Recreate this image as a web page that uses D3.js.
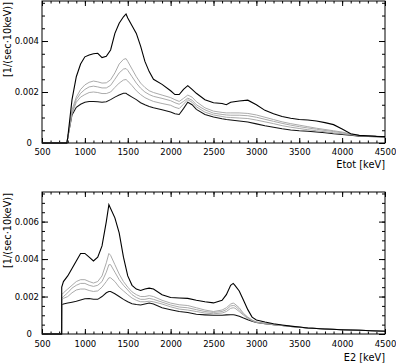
<!DOCTYPE html>
<html>
<head>
<meta charset="utf-8">
<script src="https://cdn.jsdelivr.net/npm/d3@7.9.0/dist/d3.min.js"></script>
<style>
  body { margin: 0; background: #fff; }
  svg { display: block; }
  text { font-family: "DejaVu Sans", sans-serif; fill: #000; }
</style>
</head>
<body>
<svg id="chart" width="396" height="364"></svg>
<script>
// Etot spectra (upper panel), counts per sec per 10 keV
const etotEnergy = [500, 790, 800, 850, 900, 950, 1000, 1050, 1100, 1150, 1200, 1250, 1300, 1350, 1400, 1450, 1480, 1500, 1550, 1600, 1650, 1700, 1750, 1800, 1900, 2000, 2050, 2100, 2150, 2200, 2250, 2300, 2400, 2500, 2600, 2650, 2700, 2800, 2900, 3000, 3100, 3200, 3300, 3400, 3500, 3600, 3700, 3800, 3900, 4000, 4100, 4200, 4300, 4400, 4500];
const etotHigh = [0, 0, 0.0002, 0.0017, 0.0026, 0.0031, 0.00338, 0.00345, 0.0035, 0.00352, 0.00335, 0.0034, 0.00365, 0.0043, 0.0047, 0.00495, 0.00506, 0.0049, 0.0046, 0.0043, 0.0038, 0.0032, 0.0028, 0.0025, 0.0023, 0.00205, 0.0019, 0.0019, 0.0021, 0.00225, 0.0021, 0.00195, 0.0017, 0.00158, 0.00155, 0.0015, 0.0016, 0.00165, 0.00168, 0.0015, 0.00128, 0.00115, 0.00104, 0.00097, 0.00092, 0.0009, 0.00086, 0.0008, 0.00072, 0.00055, 0.00036, 0.0003, 0.00028, 0.00026, 0.00025];
const etotMid1 = [0, 0, 0.0002, 0.0013, 0.0018, 0.0021, 0.00228, 0.00238, 0.00243, 0.0024, 0.00235, 0.00236, 0.00248, 0.00275, 0.0031, 0.00328, 0.00331, 0.0032, 0.0029, 0.0026, 0.00235, 0.00218, 0.00205, 0.00198, 0.00188, 0.00178, 0.0017, 0.00163, 0.00175, 0.00188, 0.0018, 0.00162, 0.00138, 0.00125, 0.0012, 0.00118, 0.00118, 0.00118, 0.00116, 0.0011, 0.00101, 0.00092, 0.00083, 0.00076, 0.0007, 0.00064, 0.00058, 0.00053, 0.00048, 0.00043, 0.00035, 0.00029, 0.00027, 0.00026, 0.00025];
const etotMid2 = [0, 0, 0.0002, 0.0012, 0.0017, 0.00195, 0.0021, 0.0022, 0.00223, 0.0022, 0.00216, 0.00216, 0.00226, 0.0025, 0.00275, 0.0029, 0.00292, 0.00285, 0.0026, 0.00235, 0.00215, 0.002, 0.0019, 0.00183, 0.00175, 0.00166, 0.00158, 0.00152, 0.00163, 0.00176, 0.00168, 0.0015, 0.0013, 0.00117, 0.00112, 0.0011, 0.00109, 0.00109, 0.00107, 0.00101, 0.00093, 0.00085, 0.00077, 0.0007, 0.00064, 0.00059, 0.00054, 0.00049, 0.00045, 0.0004, 0.00034, 0.00029, 0.00027, 0.00026, 0.00025];
const etotMid3 = [0, 0, 0.0002, 0.00115, 0.0016, 0.0018, 0.0019, 0.00198, 0.002, 0.00198, 0.00194, 0.00194, 0.002, 0.00218, 0.00235, 0.00247, 0.00249, 0.00243, 0.00225, 0.00205, 0.0019, 0.00178, 0.0017, 0.00163, 0.00155, 0.00148, 0.0014, 0.00135, 0.00152, 0.0017, 0.0016, 0.00142, 0.00121, 0.0011, 0.00104, 0.00101, 0.001, 0.00098, 0.00096, 0.0009, 0.00083, 0.00076, 0.00068, 0.00062, 0.00057, 0.00052, 0.00048, 0.00044, 0.0004, 0.00036, 0.00032, 0.00028, 0.00027, 0.00026, 0.00025];
const etotLow = [0, 0, 0.0002, 0.0011, 0.0014, 0.00152, 0.0016, 0.00163, 0.00163, 0.00162, 0.0016, 0.00162, 0.0017, 0.0018, 0.00188, 0.00195, 0.00195, 0.0019, 0.0018, 0.0017, 0.00158, 0.0015, 0.00143, 0.00138, 0.0013, 0.00122, 0.00115, 0.00112, 0.00135, 0.0016, 0.0015, 0.00132, 0.00112, 0.00102, 0.00095, 0.00092, 0.0009, 0.00086, 0.00082, 0.00075, 0.00068, 0.00062, 0.00056, 0.00051, 0.00048, 0.00046, 0.00043, 0.0004, 0.00036, 0.00033, 0.0003, 0.00027, 0.00026, 0.00025, 0.00024];

// E2 spectra (lower panel)
const e2Energy = [500, 729, 730, 750, 800, 850, 900, 950, 1000, 1050, 1100, 1150, 1200, 1250, 1280, 1300, 1350, 1400, 1450, 1500, 1550, 1600, 1650, 1700, 1750, 1800, 1900, 2000, 2100, 2200, 2300, 2400, 2500, 2600, 2650, 2700, 2730, 2750, 2800, 2850, 2900, 2950, 3000, 3100, 3200, 3300, 3400, 3500, 3600, 3800, 4000, 4200, 4500];
const e2High = [0, 0, 0.0025, 0.0028, 0.0031, 0.0035, 0.0039, 0.0043, 0.0043, 0.0041, 0.0039, 0.0041, 0.0047, 0.006, 0.0069, 0.0067, 0.0062, 0.0054, 0.0041, 0.0031, 0.0026, 0.0024, 0.00232, 0.0024, 0.00245, 0.0024, 0.0021, 0.00195, 0.00192, 0.0019, 0.0018, 0.00172, 0.00166, 0.0018, 0.0021, 0.0026, 0.0027, 0.0026, 0.0023, 0.0018, 0.0013, 0.0009, 0.00075, 0.00064, 0.00055, 0.00048, 0.00042, 0.00037, 0.00032, 0.00027, 0.00023, 0.0002, 0.00015];
const e2Mid1 = [0, 0, 0.0021, 0.0022, 0.0024, 0.0026, 0.0028, 0.0029, 0.0029, 0.0028, 0.00272, 0.0028, 0.0031, 0.0038, 0.0043, 0.0042, 0.0037, 0.0032, 0.0028, 0.0025, 0.00225, 0.0021, 0.002, 0.002, 0.00205, 0.002, 0.0018, 0.00165, 0.00156, 0.00152, 0.0014, 0.00128, 0.0012, 0.00128, 0.0014, 0.0016, 0.00165, 0.0016, 0.0014, 0.0011, 0.0009, 0.00075, 0.00064, 0.00057, 0.00051, 0.00046, 0.00041, 0.00037, 0.00033, 0.00027, 0.00023, 0.0002, 0.00015];
const e2Mid2 = [0, 0, 0.0019, 0.002, 0.0022, 0.00245, 0.0026, 0.0027, 0.0027, 0.0026, 0.00254, 0.0026, 0.0028, 0.0033, 0.0037, 0.0037, 0.0033, 0.0029, 0.0026, 0.00235, 0.0021, 0.00195, 0.00185, 0.00185, 0.0019, 0.00185, 0.0017, 0.00155, 0.00144, 0.0014, 0.0013, 0.0012, 0.00115, 0.0012, 0.0013, 0.0015, 0.00152, 0.0015, 0.0013, 0.00105, 0.00087, 0.00073, 0.00063, 0.00056, 0.0005, 0.00045, 0.0004, 0.00036, 0.00032, 0.00027, 0.00023, 0.0002, 0.00015];
const e2Mid3 = [0, 0, 0.00183, 0.0019, 0.002, 0.0022, 0.00235, 0.0024, 0.0024, 0.00232, 0.00227, 0.0023, 0.0025, 0.0028, 0.003, 0.003, 0.0028, 0.0025, 0.0023, 0.0021, 0.00192, 0.0018, 0.00172, 0.00172, 0.00175, 0.00172, 0.0016, 0.00145, 0.00133, 0.00128, 0.0012, 0.00112, 0.00108, 0.00112, 0.0012, 0.00137, 0.0014, 0.00138, 0.0012, 0.001, 0.00083, 0.0007, 0.00062, 0.00055, 0.0005, 0.00045, 0.0004, 0.00036, 0.00032, 0.00027, 0.00023, 0.0002, 0.00015];
const e2Low = [0, 0, 0.00156, 0.0016, 0.00165, 0.0017, 0.00175, 0.00182, 0.00188, 0.0019, 0.00185, 0.00185, 0.002, 0.0022, 0.00227, 0.00227, 0.00215, 0.002, 0.00185, 0.00172, 0.00162, 0.00157, 0.00155, 0.0016, 0.00165, 0.0016, 0.0014, 0.0013, 0.0012, 0.00115, 0.00105, 0.00102, 0.001, 0.001, 0.00102, 0.00103, 0.00103, 0.00102, 0.00095, 0.00085, 0.00076, 0.00068, 0.00062, 0.00055, 0.0005, 0.00045, 0.0004, 0.00036, 0.00032, 0.00027, 0.00023, 0.0002, 0.00015];

const yTitle = '[1/(sec\u00b710keV)]';

const svg = d3.select('#chart');

// styles per series: high black, three grey, low black
const seriesStyle = [
  { color: '#000', width: 1.1 },
  { color: '#a0a0a0', width: 0.9 },
  { color: '#a0a0a0', width: 0.9 },
  { color: '#a0a0a0', width: 0.9 },
  { color: '#111', width: 1.05 },
];

function tidy(g, fontSize) {
  g.select('.domain').remove();
  g.selectAll('line').attr('stroke', '#000');
  g.selectAll('text')
    .attr('font-family', '"DejaVu Sans", sans-serif')
    .attr('font-size', fontSize)
    .attr('fill', '#000');
}

function renderPanel(cfg) {
  const left = 42, right = 385;
  const x = d3.scaleLinear().domain([500, 4500]).range([left, right]);
  const y = d3.scaleLinear().domain([0, cfg.yMax]).range([cfg.bottom, cfg.top]);

  const xMajor = d3.range(500, 4501, 500);
  const xMinor = d3.range(500, 4501, 100);
  const yMajor = d3.range(0, cfg.yMax, 0.002);
  const yMinor = d3.range(0, cfg.yMax, 0.0005);

  const g = svg.append('g');

  // bottom axis (ticks inward)
  g.append('g')
    .attr('transform', `translate(0,${cfg.bottom})`)
    .call(d3.axisBottom(x).tickValues(xMinor).tickSize(-2.5).tickFormat(''))
    .call(a => tidy(a, 8.5));
  g.append('g')
    .attr('transform', `translate(0,${cfg.bottom})`)
    .call(d3.axisBottom(x).tickValues(xMajor).tickSize(-5).tickPadding(cfg.xPad).tickFormat(d3.format('d')))
    .call(a => tidy(a, 8.5));

  // top axis, ticks only
  g.append('g')
    .attr('transform', `translate(0,${cfg.top})`)
    .call(d3.axisTop(x).tickValues(xMinor).tickSize(-2.5).tickFormat(''))
    .call(a => tidy(a, 8.5));
  g.append('g')
    .attr('transform', `translate(0,${cfg.top})`)
    .call(d3.axisTop(x).tickValues(xMajor).tickSize(-5).tickFormat(''))
    .call(a => tidy(a, 8.5));

  // left axis
  g.append('g')
    .attr('transform', `translate(${left},0)`)
    .call(d3.axisLeft(y).tickValues(yMinor).tickSize(-3).tickFormat(''))
    .call(a => tidy(a, 8.5));
  g.append('g')
    .attr('transform', `translate(${left},0)`)
    .call(d3.axisLeft(y).tickValues(yMajor).tickSize(-6).tickPadding(3)
      .tickFormat(d => d === 0 ? '0' : d3.format('.3f')(d)))
    .call(a => tidy(a, 8.5))
    .call(a => a.selectAll('.tick').filter(d => d === 0).select('text').attr('x', -10));

  // right axis, ticks only
  g.append('g')
    .attr('transform', `translate(${right},0)`)
    .call(d3.axisRight(y).tickValues(yMinor).tickSize(-3).tickFormat(''))
    .call(a => tidy(a, 8.5));
  g.append('g')
    .attr('transform', `translate(${right},0)`)
    .call(d3.axisRight(y).tickValues(yMajor).tickSize(-6).tickFormat(''))
    .call(a => tidy(a, 8.5));

  // spectra
  const line = d3.line()
    .x((d, i) => x(cfg.energy[i]))
    .y(d => y(d));

  g.append('g')
    .selectAll('path')
    .data(cfg.series.slice().reverse())
    .join('path')
    .attr('d', d => line(d))
    .attr('fill', 'none')
    .attr('stroke', (d, i) => seriesStyle[seriesStyle.length - 1 - i].color)
    .attr('stroke-width', (d, i) => seriesStyle[seriesStyle.length - 1 - i].width)
    .attr('stroke-linejoin', 'miter');

  // frame
  g.append('rect')
    .attr('x', left)
    .attr('y', cfg.top)
    .attr('width', right - left)
    .attr('height', cfg.bottom - cfg.top)
    .attr('fill', 'none')
    .attr('stroke', '#000');

  // axis titles
  g.append('text')
    .attr('x', right)
    .attr('y', cfg.xTitleY)
    .attr('text-anchor', 'end')
    .attr('font-size', 9.8)
    .text(cfg.xTitle);

  g.append('text')
    .attr('transform', `translate(11,${cfg.top + 1}) rotate(-90)`)
    .attr('text-anchor', 'end')
    .attr('font-size', 9.8)
    .text(yTitle);
}

renderPanel({
  top: 1, bottom: 143, yMax: 0.00557, xPad: 6, xTitleY: 168,
  energy: etotEnergy,
  series: [etotHigh, etotMid1, etotMid2, etotMid3, etotLow],
  xTitle: 'Etot [keV]',
});

renderPanel({
  top: 192, bottom: 334, yMax: 0.00758, xPad: 7, xTitleY: 361,
  energy: e2Energy,
  series: [e2High, e2Mid1, e2Mid2, e2Mid3, e2Low],
  xTitle: 'E2 [keV]',
});
</script>
</body>
</html>
